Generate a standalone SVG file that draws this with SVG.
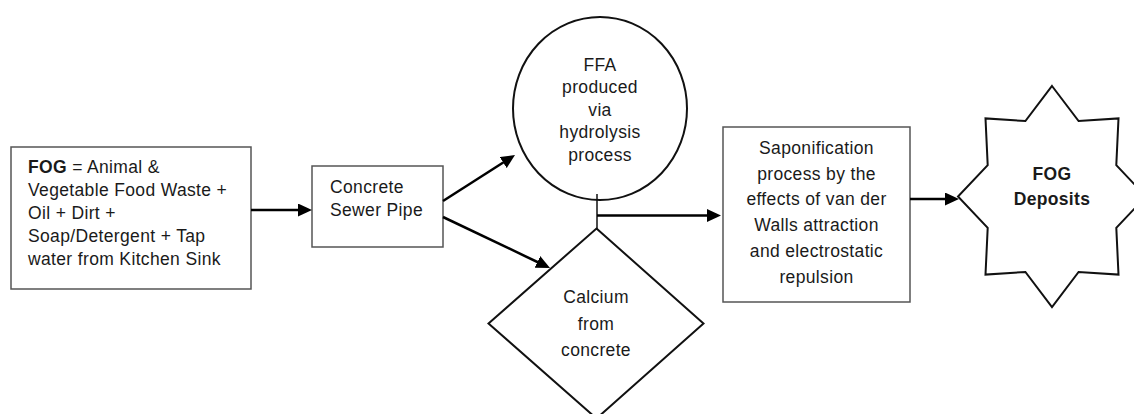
<svg xmlns="http://www.w3.org/2000/svg" width="1134" height="414" viewBox="0 0 1134 414">
  <style>
    .box { fill: #ffffff; stroke: #555555; stroke-width: 1.5; }
    .shape { fill: #ffffff; stroke: #111111; stroke-width: 2; }
    .txt { font-family: "Liberation Sans", Arial, sans-serif; font-size: 17.5px; letter-spacing: 0.35px; fill: #1a1a1a; }
    .mid { text-anchor: middle; }
    .b { font-weight: bold; }
    .conn { stroke: #000000; stroke-width: 2.5; fill: none; }
    .thin { stroke: #111111; stroke-width: 1.5; fill: none; }
  </style>
  <defs>
    <marker id="arrow" viewBox="0 0 14 13" refX="7" refY="6.5" markerWidth="14" markerHeight="13" markerUnits="userSpaceOnUse" orient="auto">
      <path d="M0,0 L14,6.5 L0,13 z" fill="#000000"/>
    </marker>
  </defs>
  <rect width="1134" height="414" fill="#ffffff"/>

  <g id="node-fog-input">
    <rect class="box" x="11" y="147" width="240" height="142"/>
    <text class="txt" x="28" y="173"><tspan class="b">FOG</tspan> = Animal &amp;</text>
    <text class="txt" x="28" y="196">Vegetable Food Waste +</text>
    <text class="txt" x="28" y="219">Oil + Dirt +</text>
    <text class="txt" x="28" y="242">Soap/Detergent + Tap</text>
    <text class="txt" x="28" y="265">water from Kitchen Sink</text>
  </g>

  <g id="node-sewer-pipe">
    <rect class="box" x="312" y="166" width="131" height="81"/>
    <text class="txt" x="330" y="193">Concrete</text>
    <text class="txt" x="330" y="216">Sewer Pipe</text>
  </g>

  <g id="node-ffa">
    <ellipse class="shape" cx="600" cy="108.5" rx="87" ry="91.5"/>
    <text class="txt mid" x="600" y="71">FFA</text>
    <text class="txt mid" x="600" y="93">produced</text>
    <text class="txt mid" x="600" y="115.5">via</text>
    <text class="txt mid" x="600" y="138">hydrolysis</text>
    <text class="txt mid" x="600" y="161">process</text>
  </g>

  <g id="node-calcium">
    <polygon class="shape" points="596.5,228.5 703.5,323.5 596.5,418.5 488.5,323.5"/>
    <text class="txt mid" x="596" y="303">Calcium</text>
    <text class="txt mid" x="596" y="330">from</text>
    <text class="txt mid" x="596" y="356">concrete</text>
  </g>

  <g id="node-saponification">
    <rect class="box" x="723" y="127" width="187" height="175"/>
    <text class="txt mid" x="816.5" y="154">Saponification</text>
    <text class="txt mid" x="816.5" y="179.5">process by the</text>
    <text class="txt mid" x="816.5" y="205">effects of van der</text>
    <text class="txt mid" x="816.5" y="230.5">Walls attraction</text>
    <text class="txt mid" x="816.5" y="256.5">and electrostatic</text>
    <text class="txt mid" x="816.5" y="282.5">repulsion</text>
  </g>

  <g id="node-fog-deposits">
    <polygon class="shape" points="1052,86 1078.6,121 1118.5,118.4 1116.3,165.2 1146,196.5 1116.3,227.8 1118.5,274.6 1078.6,272 1052,307 1025.4,272 985.5,274.6 987.7,227.8 958,196.5 987.7,165.2 985.5,118.4 1025.4,121"/>
    <text class="txt mid b" x="1052" y="180">FOG</text>
    <text class="txt mid b" x="1052" y="205">Deposits</text>
  </g>

  <g id="connectors">
    <line class="conn" x1="251" y1="210" x2="305" y2="210" marker-end="url(#arrow)"/>
    <line class="conn" x1="443" y1="201" x2="509.1" y2="158.8" marker-end="url(#arrow)"/>
    <line class="conn" x1="443" y1="217" x2="543.7" y2="265" marker-end="url(#arrow)"/>
    <line class="thin" x1="597" y1="194" x2="597" y2="229"/>
    <line class="conn" x1="597" y1="215.5" x2="714" y2="215.5" marker-end="url(#arrow)"/>
    <line class="conn" x1="910" y1="199" x2="952" y2="199" marker-end="url(#arrow)"/>
  </g>
</svg>
